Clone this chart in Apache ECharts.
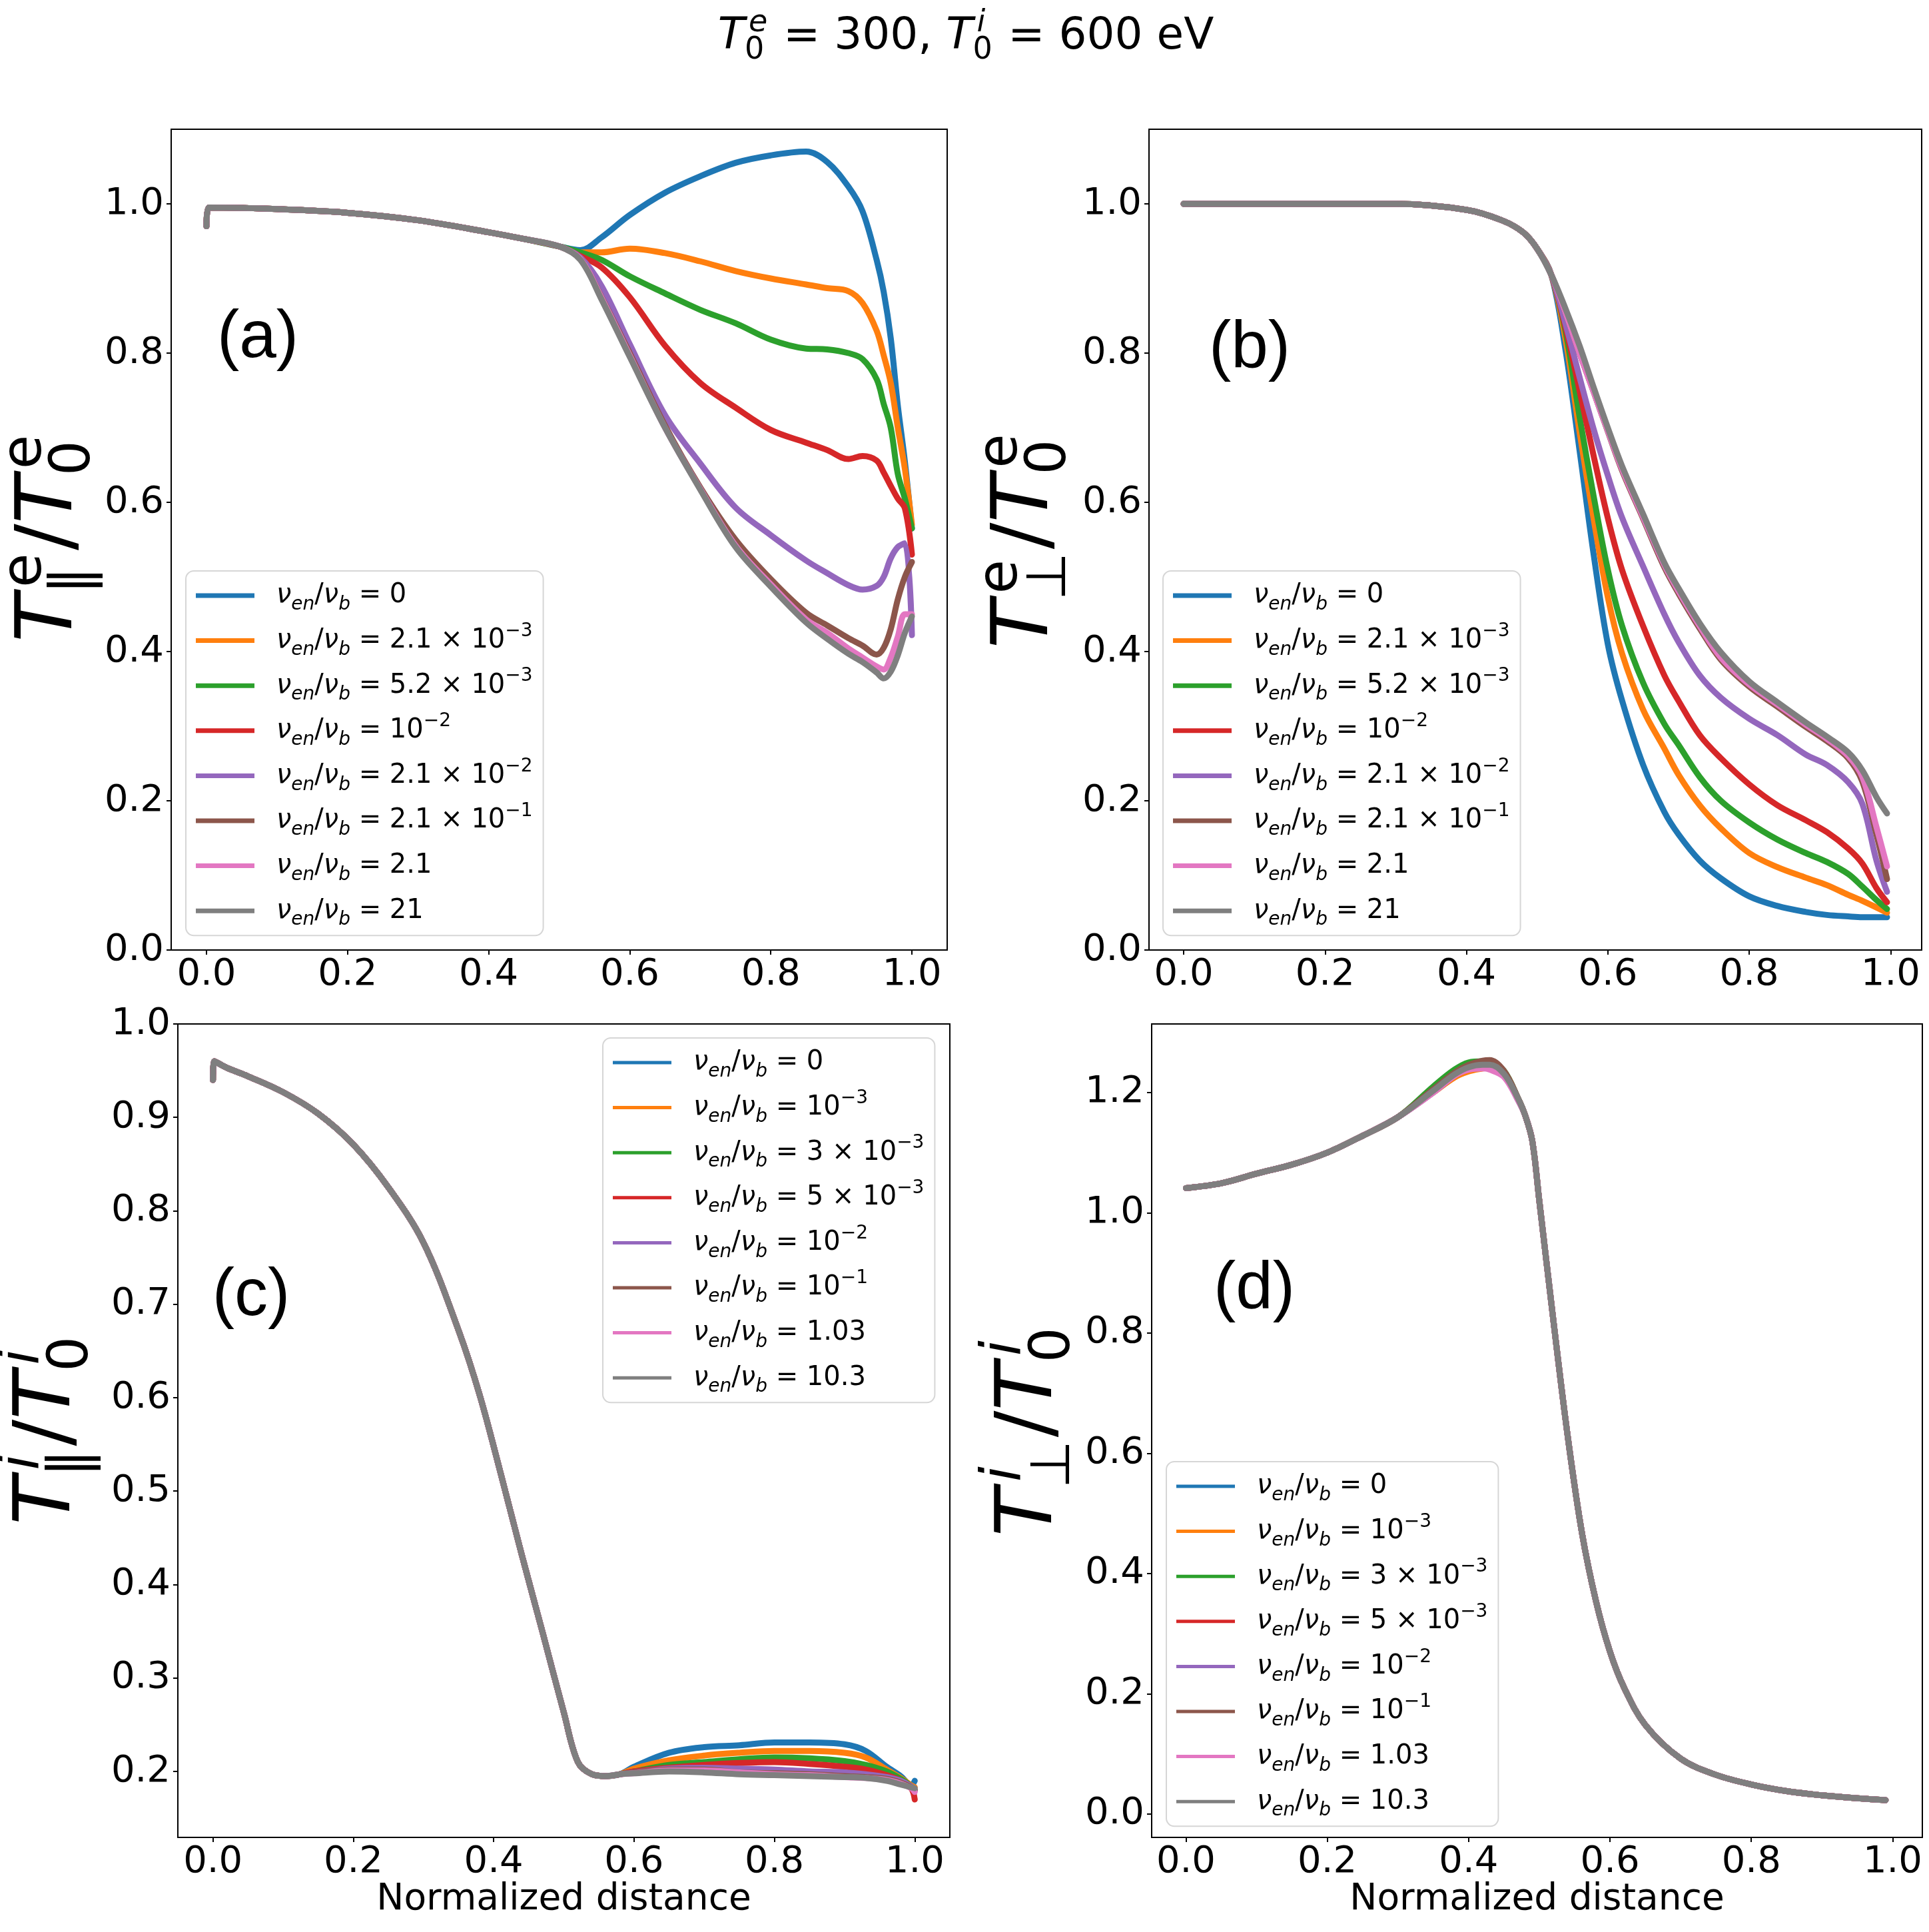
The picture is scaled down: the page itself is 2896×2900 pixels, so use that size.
<!DOCTYPE html>
<html>
<head>
<meta charset="utf-8">
<script src="https://cdn.jsdelivr.net/npm/echarts@6/dist/echarts.min.js"></script>
<style>
html, body { margin: 0; padding: 0; background: #fff; }
#chart { width: 2896px; height: 2900px; }
</style>
</head>
<body>
<div id="chart"></div>
<script>
// ---- panel (a): T_par^e / T_0^e ----
var xA = [0, 0.003, 0.1, 0.2, 0.3, 0.4, 0.45, 0.5, 0.53, 0.56, 0.6, 0.65, 0.7, 0.75, 0.8, 0.85, 0.88, 0.91, 0.93, 0.95, 0.96, 0.97, 0.98, 0.99, 1.0];
var aStart = [0.97, 0.995, 0.993, 0.988, 0.978, 0.962, 0.953, 0.943];
var aBlue   = aStart.concat([0.938, 0.955, 0.985, 1.015, 1.037, 1.055, 1.065, 1.07, 1.056, 1.023, 0.99, 0.925, 0.882, 0.82, 0.73, 0.655, 0.565]);
var aOrange = aStart.concat([0.935, 0.935, 0.94, 0.934, 0.923, 0.91, 0.9, 0.892, 0.887, 0.883, 0.867, 0.83, 0.797, 0.76, 0.70, 0.645, 0.57]);
var aGreen  = aStart.concat([0.935, 0.925, 0.903, 0.88, 0.858, 0.84, 0.818, 0.806, 0.805, 0.80, 0.792, 0.765, 0.732, 0.70, 0.638, 0.605, 0.565]);
var aRed    = aStart.concat([0.93, 0.915, 0.875, 0.81, 0.76, 0.727, 0.697, 0.68, 0.67, 0.658, 0.662, 0.656, 0.64, 0.622, 0.605, 0.592, 0.53]);
var aPurple = aStart.concat([0.928, 0.89, 0.812, 0.717, 0.652, 0.593, 0.556, 0.522, 0.505, 0.489, 0.483, 0.488, 0.50, 0.525, 0.54, 0.545, 0.422]);
var aBrown  = aStart.concat([0.926, 0.875, 0.80, 0.703, 0.62, 0.55, 0.497, 0.452, 0.435, 0.418, 0.408, 0.396, 0.405, 0.43, 0.47, 0.50, 0.52]);
var aPink   = aStart.concat([0.926, 0.874, 0.797, 0.70, 0.618, 0.542, 0.49, 0.443, 0.425, 0.404, 0.392, 0.38, 0.376, 0.392, 0.42, 0.45, 0.45]);
var aGray   = aStart.concat([0.925, 0.872, 0.795, 0.70, 0.617, 0.54, 0.487, 0.439, 0.417, 0.397, 0.386, 0.372, 0.364, 0.373, 0.395, 0.425, 0.447]);

// ---- panel (b): T_perp^e / T_0^e ----
var xB = [0, 0.1, 0.2, 0.3, 0.4, 0.45, 0.48, 0.5, 0.52, 0.54, 0.56, 0.58, 0.6, 0.62, 0.65, 0.68, 0.7, 0.73, 0.76, 0.8, 0.84, 0.88, 0.91, 0.94, 0.96, 0.98, 0.995];
var bStart = [1.0, 1.0, 1.0, 1.0, 0.992, 0.978, 0.962, 0.94, 0.905];
var bBlue   = bStart.concat([0.805, 0.67, 0.53, 0.41, 0.335, 0.248, 0.185, 0.155, 0.12, 0.096, 0.072, 0.059, 0.051, 0.047, 0.045, 0.044, 0.044, 0.044]);
var bOrange = bStart.concat([0.82, 0.695, 0.578, 0.473, 0.398, 0.322, 0.27, 0.235, 0.194, 0.163, 0.13, 0.111, 0.097, 0.087, 0.074, 0.066, 0.057, 0.05]);
var bGreen  = bStart.concat([0.83, 0.715, 0.608, 0.51, 0.435, 0.358, 0.303, 0.275, 0.232, 0.20, 0.171, 0.148, 0.13, 0.118, 0.102, 0.085, 0.067, 0.055]);
var bRed    = bStart.concat([0.835, 0.75, 0.662, 0.579, 0.51, 0.434, 0.368, 0.334, 0.288, 0.257, 0.222, 0.194, 0.174, 0.158, 0.136, 0.116, 0.083, 0.064]);
var bPurple = bStart.concat([0.84, 0.768, 0.698, 0.636, 0.58, 0.514, 0.45, 0.413, 0.368, 0.338, 0.31, 0.288, 0.262, 0.248, 0.225, 0.196, 0.12, 0.078]);
var bBrown  = bStart.concat([0.855, 0.80, 0.748, 0.695, 0.643, 0.578, 0.513, 0.478, 0.431, 0.389, 0.353, 0.326, 0.299, 0.28, 0.257, 0.226, 0.155, 0.095]);
var bPink   = bStart.concat([0.855, 0.80, 0.748, 0.696, 0.645, 0.58, 0.516, 0.481, 0.434, 0.392, 0.356, 0.329, 0.302, 0.283, 0.26, 0.232, 0.165, 0.112]);
var bGray   = bStart.concat([0.86, 0.81, 0.754, 0.70, 0.649, 0.584, 0.519, 0.485, 0.438, 0.399, 0.36, 0.332, 0.305, 0.286, 0.265, 0.241, 0.205, 0.183]);

// ---- panel (c): T_par^i / T_0^i ----
var xC = [0, 0.002, 0.02, 0.05, 0.1, 0.15, 0.2, 0.25, 0.3, 0.35, 0.38, 0.41, 0.44, 0.47, 0.5, 0.52, 0.54, 0.56, 0.58, 0.6, 0.65, 0.7, 0.75, 0.8, 0.85, 0.9, 0.93, 0.96, 0.98, 0.995, 1.0];
var cStart = [0.94, 0.96, 0.953, 0.944, 0.927, 0.904, 0.871, 0.825, 0.766, 0.672, 0.603, 0.519, 0.432, 0.348, 0.263, 0.21, 0.197, 0.195, 0.197];
var cBlue   = cStart.concat([0.205, 0.22, 0.226, 0.228, 0.231, 0.231, 0.229, 0.222, 0.205, 0.195, 0.185, 0.19]);
var cOrange = cStart.concat([0.203, 0.212, 0.217, 0.22, 0.222, 0.222, 0.22, 0.215, 0.202, 0.193, 0.185, 0.183]);
var cGreen  = cStart.concat([0.2, 0.207, 0.21, 0.213, 0.215, 0.214, 0.211, 0.207, 0.2, 0.192, 0.184, 0.18]);
var cRed    = cStart.concat([0.2, 0.204, 0.207, 0.209, 0.21, 0.208, 0.205, 0.202, 0.196, 0.19, 0.182, 0.17]);
var cPurple = cStart.concat([0.199, 0.203, 0.204, 0.203, 0.202, 0.2, 0.199, 0.197, 0.194, 0.19, 0.184, 0.18]);
var cBrown  = cStart.concat([0.199, 0.202, 0.202, 0.199, 0.198, 0.197, 0.195, 0.194, 0.192, 0.188, 0.183, 0.18]);
var cPink   = cStart.concat([0.198, 0.201, 0.201, 0.199, 0.197, 0.196, 0.194, 0.193, 0.191, 0.187, 0.182, 0.178]);
var cGray   = cStart.concat([0.198, 0.2, 0.199, 0.197, 0.196, 0.195, 0.194, 0.193, 0.19, 0.186, 0.183, 0.182]);

// ---- panel (d): T_perp^i / T_0^i ----
var xD = [0, 0.05, 0.1, 0.15, 0.2, 0.25, 0.3, 0.35, 0.38, 0.4, 0.42, 0.43, 0.45, 0.47, 0.48, 0.49, 0.5, 0.52, 0.54, 0.56, 0.58, 0.6, 0.62, 0.65, 0.7, 0.75, 0.8, 0.85, 0.9, 0.95, 0.99];
var dStart = [1.041, 1.049, 1.065, 1.08, 1.1, 1.128, 1.159];
var dEnd = [1.162, 1.12, 1.02, 0.82, 0.63, 0.47, 0.355, 0.27, 0.21, 0.148, 0.092, 0.065, 0.049, 0.038, 0.031, 0.026, 0.023];
var dBlue   = dStart.concat([1.205, 1.232, 1.245, 1.25, 1.249, 1.232, 1.19], dEnd);
var dOrange = dStart.concat([1.2, 1.225, 1.235, 1.24, 1.242, 1.23, 1.188], dEnd);
var dGreen  = dStart.concat([1.21, 1.238, 1.25, 1.252, 1.25, 1.236, 1.19], dEnd);
var dRed    = dStart.concat([1.205, 1.232, 1.245, 1.252, 1.253, 1.235, 1.19], dEnd);
var dPurple = dStart.concat([1.2, 1.228, 1.24, 1.242, 1.24, 1.228, 1.187], dEnd);
var dBrown  = dStart.concat([1.205, 1.233, 1.246, 1.253, 1.254, 1.236, 1.19], dEnd);
var dPink   = dStart.concat([1.2, 1.228, 1.238, 1.24, 1.238, 1.226, 1.187], dEnd);
var dGray   = dStart.concat([1.203, 1.23, 1.242, 1.246, 1.246, 1.231, 1.19], dEnd);

// legend values (after "nu_en/nu_b = ")
var eLabels = ['0', '2.1 × 10{p|−3}', '5.2 × 10{p|−3}', '10{p|−2}', '2.1 × 10{p|−2}', '2.1 × 10{p|−1}', '2.1', '21'];
var iLabels = ['0', '10{p|−3}', '3 × 10{p|−3}', '5 × 10{p|−3}', '10{p|−2}', '10{p|−1}', '1.03', '10.3'];
var xTicks = [0, 0.2, 0.4, 0.6, 0.8, 1.0];
var yTicksAB = [0, 0.2, 0.4, 0.6, 0.8, 1.0];
var yTicksC = [0.2, 0.3, 0.4, 0.5, 0.6, 0.7, 0.8, 0.9, 1.0];
var yTicksD = [0, 0.2, 0.4, 0.6, 0.8, 1.0, 1.2];

var colors = ['#1f77b4', '#ff7f0e', '#2ca02c', '#d62728', '#9467bd', '#8c564b', '#e377c2', '#7f7f7f'];
var FONT = 'DejaVu Sans';

var panels = [
    { id: 'a', xs: xA, ys: [aBlue, aOrange, aGreen, aRed, aPurple, aBrown, aPink, aGray], labels: eLabels,
      grid: { left: 257, top: 194, width: 1165, height: 1232 }, x: [-0.05, 1.05], y: [0, 1.1], yt: yTicksAB,
      legend: { left: 279, top: 857 }, iconH: 7 },
    { id: 'b', xs: xB, ys: [bBlue, bOrange, bGreen, bRed, bPurple, bBrown, bPink, bGray], labels: eLabels,
      grid: { left: 1725, top: 194, width: 1160, height: 1232 }, x: [-0.049, 1.044], y: [0, 1.1], yt: yTicksAB,
      legend: { left: 1746, top: 857 }, iconH: 7 },
    { id: 'c', xs: xC, ys: [cBlue, cOrange, cGreen, cRed, cPurple, cBrown, cPink, cGray], labels: iLabels,
      grid: { left: 267, top: 1537, width: 1159, height: 1221 }, x: [-0.05, 1.05], y: [0.1294, 1.0], yt: yTicksC,
      legend: { left: 905, top: 1558 }, iconH: 5, xname: true },
    { id: 'd', xs: xD, ys: [dBlue, dOrange, dGreen, dRed, dPurple, dBrown, dPink, dGray], labels: iLabels,
      grid: { left: 1729, top: 1537, width: 1157, height: 1221 }, x: [-0.0485, 1.042], y: [-0.039, 1.314], yt: yTicksD,
      legend: { left: 1751, top: 2194 }, iconH: 5, xname: true }
];

var axisCommon = {
    axisLine: { show: true, onZero: false, lineStyle: { color: '#000', width: 2 } },
    axisTick: { show: true, length: 7, lineStyle: { color: '#000', width: 2 } },
    splitLine: { show: false }
};
var tickFmt = function (v) { return v.toFixed(1); };

var labelMap = {};
var grids = [], xAxes = [], yAxes = [], series = [], legends = [];
panels.forEach(function (p, k) {
    grids.push(Object.assign({ show: true, borderColor: '#000', borderWidth: 2, backgroundColor: '#fff' }, p.grid));
    xAxes.push(Object.assign({}, axisCommon, {
        type: 'value', gridIndex: k, min: p.x[0], max: p.x[1],
        axisTick: Object.assign({}, axisCommon.axisTick, { customValues: xTicks }),
        axisLabel: { customValues: xTicks, formatter: tickFmt, fontSize: 56, fontFamily: FONT, color: '#000', margin: 9 },
        name: p.xname ? 'Normalized distance' : '', nameLocation: 'middle', nameGap: 64,
        nameTextStyle: { fontSize: 55, fontFamily: FONT, color: '#000' }
    }));
    yAxes.push(Object.assign({}, axisCommon, {
        type: 'value', gridIndex: k, min: p.y[0], max: p.y[1],
        axisTick: Object.assign({}, axisCommon.axisTick, { customValues: p.yt }),
        axisLabel: { customValues: p.yt, formatter: tickFmt, fontSize: 56, fontFamily: FONT, color: '#000', margin: 11 }
    }));
    var names = [];
    p.ys.forEach(function (ys, i) {
        var nm = p.id + i;
        names.push(nm);
        labelMap[nm] = '{it|ν}{s|en}/{it|ν}{s|b} = ' + p.labels[i];
        series.push({
            type: 'line', name: nm, xAxisIndex: k, yAxisIndex: k,
            data: p.xs.map(function (x, j) { return [x, ys[j]]; }),
            showSymbol: false, symbol: 'none', smooth: 0.35,
            lineStyle: { width: 9, color: colors[i], cap: 'round', join: 'round' }, itemStyle: { color: colors[i] },
            emphasis: { disabled: true }
        });
    });
    legends.push({
        data: names, orient: 'vertical', left: p.legend.left, top: p.legend.top,
        icon: 'rect', itemWidth: 88, itemHeight: p.iconH, itemGap: 11.6,
        padding: [9, 16, 9, 15], selectedMode: false,
        backgroundColor: 'rgba(255,255,255,0.8)', borderColor: '#d6d6d6', borderWidth: 2, borderRadius: 12,
        formatter: function (name) { return labelMap[name]; },
        textStyle: {
            fontFamily: FONT, fontSize: 40, color: '#000', lineHeight: 56, padding: [0, 0, 0, 28],
            rich: {
                it: { fontFamily: FONT, fontSize: 40, fontStyle: 'italic', color: '#000' },
                s: { fontFamily: FONT, fontSize: 28, fontStyle: 'italic', color: '#000', verticalAlign: 'bottom', lineHeight: 30 },
                p: { fontFamily: FONT, fontSize: 28, color: '#000', verticalAlign: 'top', lineHeight: 30 }
            }
        }
    });
});

// mathtext-like labels with stacked super/subscripts
var meas = document.createElement('canvas').getContext('2d');
function tw(t, size, it) {
    meas.font = (it ? 'italic ' : '') + size + 'px "' + FONT + '"';
    return meas.measureText(t).width;
}
function mathText(items, S, cx, cy, rot) {
    var s = Math.round(S * 0.7), x = 0, parts = [];
    items.forEach(function (it) {
        if (it.t !== undefined) {
            parts.push({ x: x, b: 0, t: it.t, it: it.it, size: S });
            x += tw(it.t, S, it.it);
        } else {
            var w = 0, dx = it.dx || 0;
            if (it.sup) {
                parts.push({ x: x + dx, b: -0.42 * S, t: it.sup, it: it.supIt, size: s });
                w = Math.max(w, tw(it.sup, s, it.supIt) + dx);
            }
            if (it.sub) {
                parts.push({ x: x, b: 0.2 * S, t: it.sub, it: false, size: s });
                w = Math.max(w, tw(it.sub, s, false));
            }
            x += w + 0.04 * S;
        }
    });
    return {
        type: 'group', x: cx, y: cy, rotation: rot || 0, silent: true,
        children: parts.map(function (q) {
            return {
                type: 'text', x: q.x - x / 2, y: q.b - 0.35 * q.size,
                style: {
                    text: q.t, font: (q.it ? 'italic ' : '') + q.size + 'px "' + FONT + '"', fill: '#000',
                    align: 'left', textAlign: 'left', verticalAlign: 'middle', textVerticalAlign: 'middle'
                }
            };
        })
    };
}
function panelTag(t, x, y) {
    return {
        type: 'text', x: x, y: y, silent: true,
        style: { text: t, font: '100px "Liberation Sans"', fill: '#000', align: 'center', textAlign: 'center', verticalAlign: 'middle', textVerticalAlign: 'middle' }
    };
}

var R = Math.PI / 2;
var graphics = [
    mathText([{ t: 'T', it: true }, { sup: 'e', supIt: true, sub: '0', dx: 6 }, { t: ' = 300, ' },
              { t: 'T', it: true }, { sup: 'i', supIt: true, sub: '0', dx: 6 }, { t: ' = 600 eV' }], 66, 1450, 79, 0),
    mathText([{ t: 'T', it: true }, { sup: 'e', sub: '‖', dx: 10 }, { t: '/' }, { t: 'T', it: true }, { sup: 'e', sub: '0', dx: 10 }], 118, 118, 806, R),
    mathText([{ t: 'T', it: true }, { sup: 'e', sub: '⊥', dx: 10 }, { t: '/' }, { t: 'T', it: true }, { sup: 'e', sub: '0', dx: 10 }], 118, 1583, 810, R),
    mathText([{ t: 'T', it: true }, { sup: 'i', supIt: true, sub: '‖', dx: 10 }, { t: '/' }, { t: 'T', it: true }, { sup: 'i', supIt: true, sub: '0', dx: 10 }], 118, 115, 2145, R),
    mathText([{ t: 'T', it: true }, { sup: 'i', supIt: true, sub: '⊥', dx: 10 }, { t: '/' }, { t: 'T', it: true }, { sup: 'i', supIt: true, sub: '0', dx: 10 }], 118, 1589, 2147, R),
    panelTag('(a)', 387, 508),
    panelTag('(b)', 1876, 524),
    panelTag('(c)', 377, 1946),
    panelTag('(d)', 1883, 1936)
];

var chart = echarts.init(document.getElementById('chart'));
chart.setOption({
    backgroundColor: '#fff',
    animation: false,
    grid: grids,
    xAxis: xAxes,
    yAxis: yAxes,
    legend: legends,
    series: series,
    graphic: graphics
});
</script>
</body>
</html>
